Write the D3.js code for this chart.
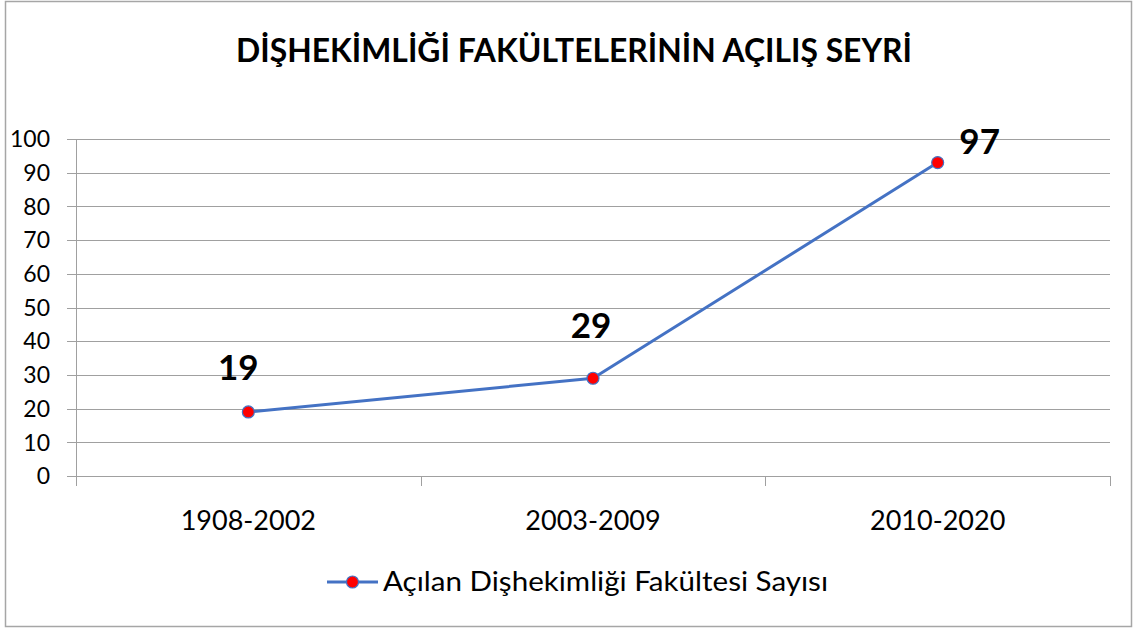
<!DOCTYPE html>
<html>
<head>
<meta charset="utf-8">
<script src="https://cdn.jsdelivr.net/npm/d3@7"></script>
<style>
	body { margin: 0; background: #fff; }
	text { font-family: Lato, "Open Sans", sans-serif; fill: #000; }
</style>
</head>
<body>
<div class="chart"></div>
<script>
var categories = ["1908-2002", "2003-2009", "2010-2020"];
var values = [19, 29, 93];
var point_labels = ["19", "29", "97"];
var y_ticks = [0, 10, 20, 30, 40, 50, 60, 70, 80, 90, 100];
var series_name = "Açılan Dişhekimliği Fakültesi Sayısı";
var title = "DİŞHEKİMLİĞİ FAKÜLTELERİNİN AÇILIŞ SEYRİ";

var colors = {
	line: "#4472c4",
	marker: "#ff0000",
	grid: "#a0a0a0",
	border: "#a6a6a6"
};

var W = 1137, H = 630;
var margin = {left: 76, right: 27, top: 139, bottom: 154};
var width = W - margin.left - margin.right;
var height = H - margin.top - margin.bottom;

var svg = d3.select(".chart").append("svg")
	.attr("width", W)
	.attr("height", H);

// outer frame
svg.append("rect")
	.attr("x", 5.5).attr("y", 1.5)
	.attr("width", 1126).attr("height", 625)
	.style("fill", "#fff")
	.style("stroke", colors.border)
	.style("stroke-width", 1.5);

svg.append("text")
	.attr("x", 574).attr("y", 62)
	.attr("text-anchor", "middle")
	.attr("textLength", 676)
	.attr("lengthAdjust", "spacingAndGlyphs")
	.style("font-size", "33px")
	.style("font-weight", "bold")
	.text(title);

var g = svg.append("g")
	.attr("transform", "translate(" + margin.left + "," + margin.top + ")");

var x = d3.scaleBand()
	.domain(categories)
	.range([0, width]);

var y = d3.scaleLinear()
	.domain([0, 100])
	.range([height, 0]);

// gridlines + y ticks
g.selectAll(".grid")
	.data(y_ticks)
	.enter().append("line")
		.attr("class", "grid")
		.attr("x1", -9)
		.attr("x2", width)
		.attr("y1", function(d){ return Math.round(y(d)) + 0.5; })
		.attr("y2", function(d){ return Math.round(y(d)) + 0.5; })
		.style("stroke", colors.grid)
		.style("stroke-width", 1);

g.selectAll(".ytick")
	.data(y_ticks)
	.enter().append("text")
		.attr("class", "ytick")
		.attr("x", -26)
		.attr("y", function(d){ return y(d); })
		.attr("dy", "0.36em")
		.attr("text-anchor", "end")
		.style("font-size", "23px")
		.text(function(d){ return d; });

// y axis line
g.append("line")
	.attr("x1", 0.5).attr("x2", 0.5)
	.attr("y1", 0).attr("y2", height)
	.style("stroke", colors.grid);

// x ticks between categories
var x_edges = categories.map(function(d){ return x(d); }).concat([width]);
g.selectAll(".xtick")
	.data(x_edges)
	.enter().append("line")
		.attr("class", "xtick")
		.attr("x1", function(d){ return Math.round(d) + 0.5; })
		.attr("x2", function(d){ return Math.round(d) + 0.5; })
		.attr("y1", height)
		.attr("y2", height + 10)
		.style("stroke", colors.grid);

g.selectAll(".xlabel")
	.data(categories)
	.enter().append("text")
		.attr("class", "xlabel")
		.attr("x", function(d){ return x(d) + x.bandwidth() / 2; })
		.attr("y", height + 54)
		.attr("text-anchor", "middle")
		.style("font-size", "27px")
		.text(function(d){ return d; });

// series
var pts = categories.map(function(c, i){
	return {cat: c, value: values[i], label: point_labels[i]};
});

var line = d3.line()
	.x(function(d){ return x(d.cat) + x.bandwidth() / 2; })
	.y(function(d){ return y(d.value); });

g.append("path")
	.datum(pts)
	.attr("d", line)
	.style("fill", "none")
	.style("stroke", colors.line)
	.style("stroke-width", 3)
	.style("stroke-linejoin", "round");

g.selectAll(".dot")
	.data(pts)
	.enter().append("circle")
		.attr("class", "dot")
		.attr("cx", function(d){ return x(d.cat) + x.bandwidth() / 2; })
		.attr("cy", function(d){ return y(d.value); })
		.attr("r", 6)
		.style("fill", colors.marker)
		.style("stroke", colors.line)
		.style("stroke-width", 1.2);

// data labels (last one sits to the right of its point)
var label_off = [{dx: -10, dy: -45}, {dx: -2, dy: -53}, {dx: 42, dy: -21}];
g.selectAll(".plabel")
	.data(pts)
	.enter().append("text")
		.attr("class", "plabel")
		.attr("x", function(d, i){ return x(d.cat) + x.bandwidth() / 2 + label_off[i].dx; })
		.attr("y", function(d, i){ return y(d.value) + label_off[i].dy; })
		.attr("dy", "0.36em")
		.attr("text-anchor", "middle")
		.style("font-size", "35px")
		.style("font-weight", "bold")
		.text(function(d){ return d.label; });

// legend
var legend = svg.append("g").attr("transform", "translate(327,582)");
legend.append("line")
	.attr("x1", 0).attr("x2", 51)
	.attr("y1", 0).attr("y2", 0)
	.style("stroke", colors.line)
	.style("stroke-width", 3);
legend.append("circle")
	.attr("cx", 25.5).attr("cy", 0).attr("r", 6)
	.style("fill", colors.marker)
	.style("stroke", colors.line)
	.style("stroke-width", 1.2);
legend.append("text")
	.attr("x", 56).attr("y", 0)
	.attr("dy", "0.36em")
	.attr("textLength", 445)
	.attr("lengthAdjust", "spacingAndGlyphs")
	.style("font-size", "26px")
	.text(series_name);
</script>
</body>
</html>
